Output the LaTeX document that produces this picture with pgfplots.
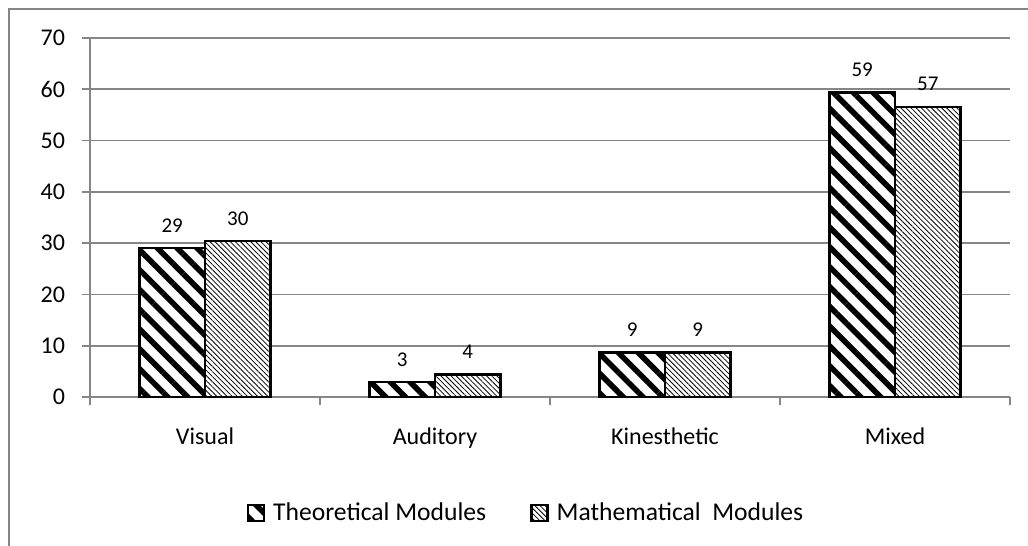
\documentclass[border=0pt]{standalone}
\usepackage{fontspec}
\setmainfont{Carlito}
\usepackage{pgfplots}
\pgfplotsset{compat=1.18}
\usetikzlibrary{patterns.meta}
\definecolor{axgray}{RGB}{134,134,134}
\begin{document}
\begin{tikzpicture}
\useasboundingbox (0,0) rectangle (514pt,-273pt);
\draw[axgray, line width=1pt] (4.5pt,-290pt) -- (4.5pt,-4.5pt) -- (530pt,-4.5pt);
\begin{axis}[
  at={(45pt,-198.5pt)}, anchor=south west,
  scale only axis, width=460pt, height=179.5pt,
  xmin=-0.5, xmax=3.5, ymin=0, ymax=70,
  axis x line*=bottom, axis y line*=left,
  axis line style={axgray, line width=0.9pt, -},
  ytick={0,10,...,70}, ymajorgrids, grid style={axgray, line width=0.9pt},
  xtick={-0.5,0.5,1.5,2.5,3.5},
  x tick label as interval,
  xticklabels={Visual,Auditory,Kinesthetic,Mixed},
  tick style={axgray, line width=0.9pt},
  tick align=outside, major tick length=4pt,
  /pgf/number format/assume math mode=true,
  ticklabel style={font=\fontsize{12}{14}\selectfont, text=black},
  yticklabel style={xshift=-5pt},
  xticklabel style={yshift=-8pt},
  ybar, bar width=0.285,
  nodes near coords,
  nodes near coords style={font=\fontsize{10.5}{12}\selectfont, /pgf/number format/fixed, /pgf/number format/precision=0, yshift=4pt, text=black},
  legend columns=2,
  legend style={draw=none, at={(0.475,-0.323)}, anchor=center, font=\fontsize{12.8}{15}\selectfont,
    /tikz/every even column/.append style={column sep=20pt},
    /tikz/every odd column/.append style={column sep=0pt}},
  legend image code/.code={\draw[#1] (0pt,-4pt) rectangle (8pt,4pt);},
  legend cell align=left,
]
\addplot[draw=black, line width=1.2pt, fill=white, postaction={pattern={Lines[angle=-45,distance=7pt,line width=2.8pt]}}, bar shift=-0.1425]
  coordinates {(0,29.0) (1,2.9) (2,8.7) (3,59.4)};
\addplot[draw=black, line width=1.2pt, fill=white, postaction={pattern={Lines[angle=-45,distance=1.8pt,line width=0.4pt]}}, bar shift=0.1425]
  coordinates {(0,30.4) (1,4.4) (2,8.7) (3,56.6)};
\legend{\hspace{2pt}Theoretical Modules, \hspace{2pt}Mathematical\ \ Modules}
\end{axis}
\end{tikzpicture}
\end{document}
